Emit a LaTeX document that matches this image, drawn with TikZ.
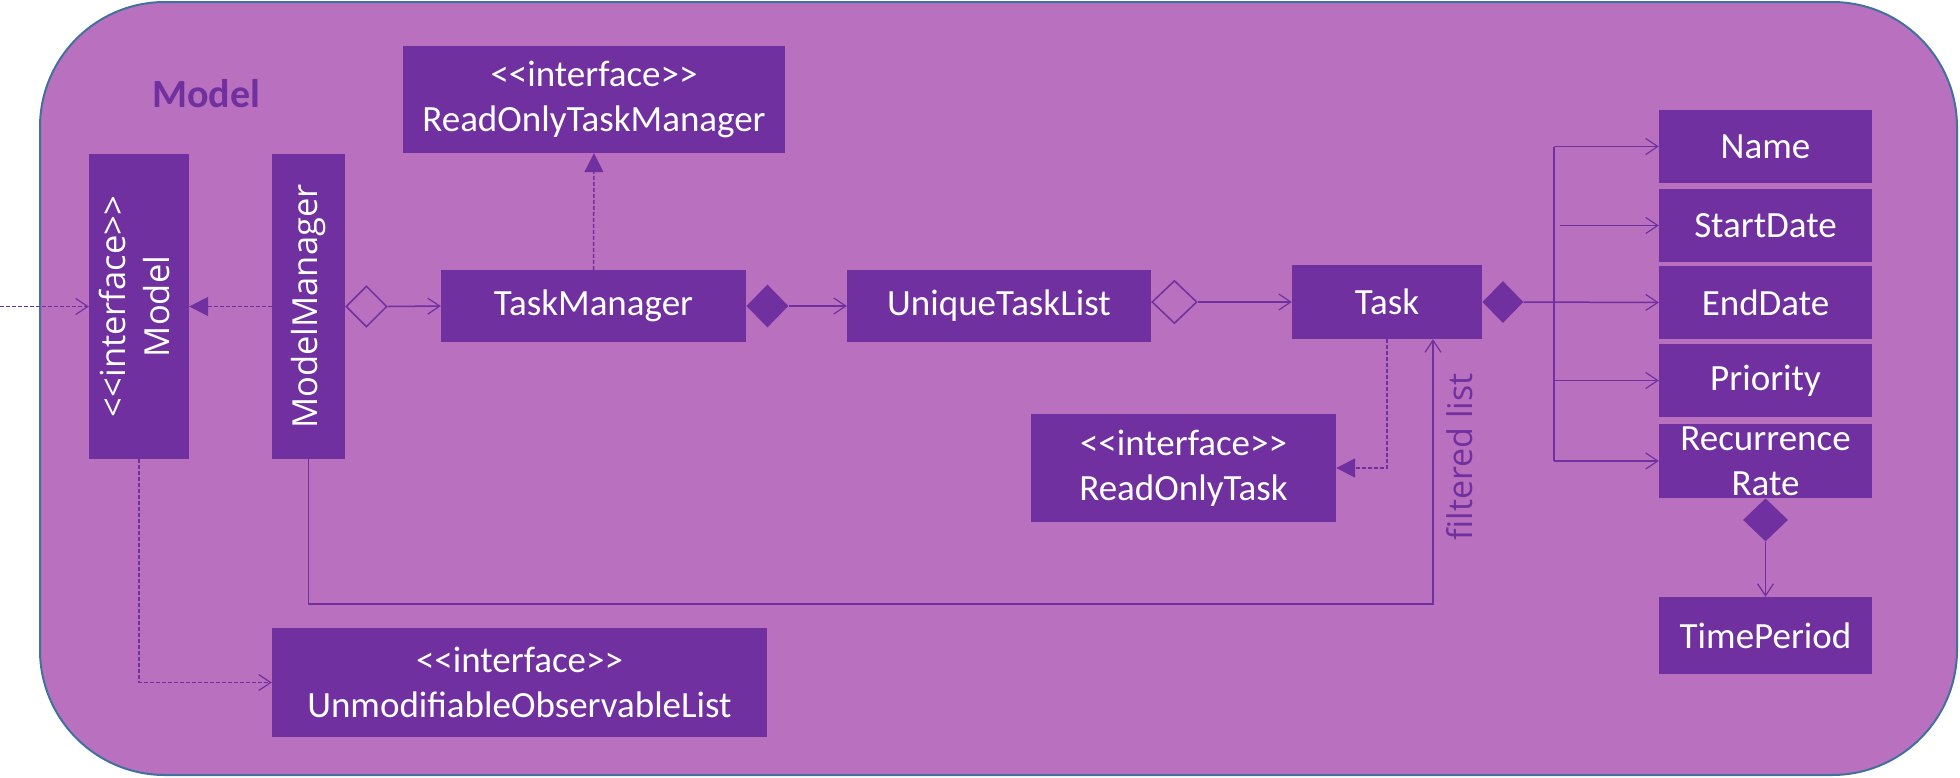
\documentclass[tikz,border=0pt]{standalone}
\usepackage{fontspec}
\usepackage{graphicx}
\setmainfont{Carlito}
\newfontfamily\rotfont{Open Sans}
\usetikzlibrary{arrows.meta,shapes.geometric}
\definecolor{bgc}{HTML}{B970BE}
\definecolor{boxc}{HTML}{7030A0}
\definecolor{edgec}{HTML}{41719C}
\newcommand\ltlt{<\kern0pt<}
\newcommand\gtgt{>\kern0pt>}
\begin{document}
\begin{tikzpicture}[x=1pt,y=-1pt,
 box/.style={fill=boxc,text=white,inner sep=0pt,align=center,font=\fontsize{37}{45}\selectfont},
 rbox/.style={box,minimum width=213pt,minimum height=73pt},
 vbox/.style={fill=boxc,text=white,inner sep=0pt,align=center,font=\rotfont\fontsize{34.5}{44}\selectfont},
 fdiam/.style={diamond,fill=boxc,inner sep=0pt},
 odiam/.style={diamond,draw=boxc,line width=1.5pt,inner sep=0pt},
 plain/.style={draw=boxc,line width=1.5pt},
 assoc/.style={draw=boxc,line width=1.5pt,-{Straight Barb[length=12pt,width=16pt,line width=1.2pt]}},
 realz/.style={draw=boxc,line width=1.5pt,dash pattern=on 4pt off 2pt,-{Triangle[length=19pt,width=19pt]}},
 depn/.style={draw=boxc,line width=1.5pt,dash pattern=on 4pt off 2pt,-{Straight Barb[length=12pt,width=16pt,line width=1.2pt]}},
]
\useasboundingbox (0,0) rectangle (1960,777);
\draw[fill=bgc,draw=edgec,line width=2pt,rounded corners=125pt] (40,2) rectangle (1957,775);

\node[font=\bfseries\fontsize{40}{48}\selectfont,text=boxc] (lbl) at (206,94) {Model};

\node[vbox,minimum width=100pt,minimum height=305pt] (model) at (139,306.5)
  {\rotatebox{90}{\begin{tabular}{@{}c@{}}\ltlt interface\gtgt\\Model\end{tabular}}};
\node[vbox,minimum width=73pt,minimum height=305pt] (mm) at (308.5,306.5) {\rotatebox{90}{ModelManager}};

\node[box,minimum width=382pt,minimum height=107pt] (rotm) at (594,99.5) {\ltlt interface\gtgt\\ReadOnlyTaskManager};
\node[box,minimum width=305pt,minimum height=72pt] (tm) at (593.5,306) {TaskManager};
\node[box,minimum width=304pt,minimum height=72pt] (utl) at (999,306) {UniqueTaskList};
\node[box,minimum width=190pt,minimum height=74pt] (task) at (1387,302) {Task};
\node[box,minimum width=305pt,minimum height=108pt] (rot) at (1183.5,468) {\ltlt interface\gtgt\\ReadOnlyTask};
\node[box,minimum width=495pt,minimum height=109pt] (uol) at (519.5,682.5) {\ltlt interface\gtgt\\UnmodifiableObservableList};

\node[rbox] (name) at (1765.5,146.5) {Name};
\node[rbox] (sd) at (1765.5,225.5) {StartDate};
\node[rbox] (ed) at (1765.5,302.5) {EndDate};
\node[rbox] (pr) at (1765.5,380.5) {Priority};
\node[rbox,minimum height=74pt] (rr) at (1765.5,461) {Recurrence\\Rate};
\node[rbox,minimum height=77pt] (tp) at (1765.5,635.5) {TimePeriod};

\node[odiam,minimum width=41pt,minimum height=41pt,anchor=west] (mmd) at (mm.east) {};
\node[fdiam,minimum width=42pt,minimum height=43pt,anchor=west] (tmd) at (tm.east) {};
\node[odiam,minimum width=45pt,minimum height=43pt,anchor=west] (utld) at (utl.east |- task.west) {};
\node[fdiam,minimum width=41pt,minimum height=42pt,anchor=west] (taskd) at (task.east) {};
\node[fdiam,minimum width=45pt,minimum height=43pt,anchor=north] (rrd) at (rr.south) {};

\coordinate (entry) at (0,306.5);
\draw[depn] (entry) -- (model.west);
\draw[realz] (mm.west) -- (model.east);
\draw[assoc] (mmd.east) -- (tm.west);
\draw[realz] (tm.north) -- (rotm.south);
\draw[assoc] (tmd.east) -- (utl.west);
\draw[assoc] (utld.east) -- (task.west);
\draw[assoc] (taskd.east) -- (ed.west);

\coordinate (bus) at (1554,0);
\draw[plain] (bus |- name.west) -- (bus |- rr.west);
\draw[assoc] (bus |- name.west) -- (name.west);
\draw[assoc] ([xshift=6pt]bus |- sd.west) -- (sd.west);
\draw[assoc] (bus |- pr.west) -- (pr.west);
\draw[assoc] (bus |- rr.west) -- (rr.west);
\draw[assoc] (rrd.south) -- (tp.north);

\draw[realz] (task.south) |- (rot.east);
\coordinate (fl) at (1433,604);
\draw[assoc] (mm.south) |- (fl) -- (fl |- task.south);
\node[rotate=90,text=boxc,font=\rotfont\fontsize{34}{40}\selectfont] (fll) at (1460,457) {filtered list};
\draw[depn] (model.south) |- (uol.west);
\end{tikzpicture}
\end{document}
